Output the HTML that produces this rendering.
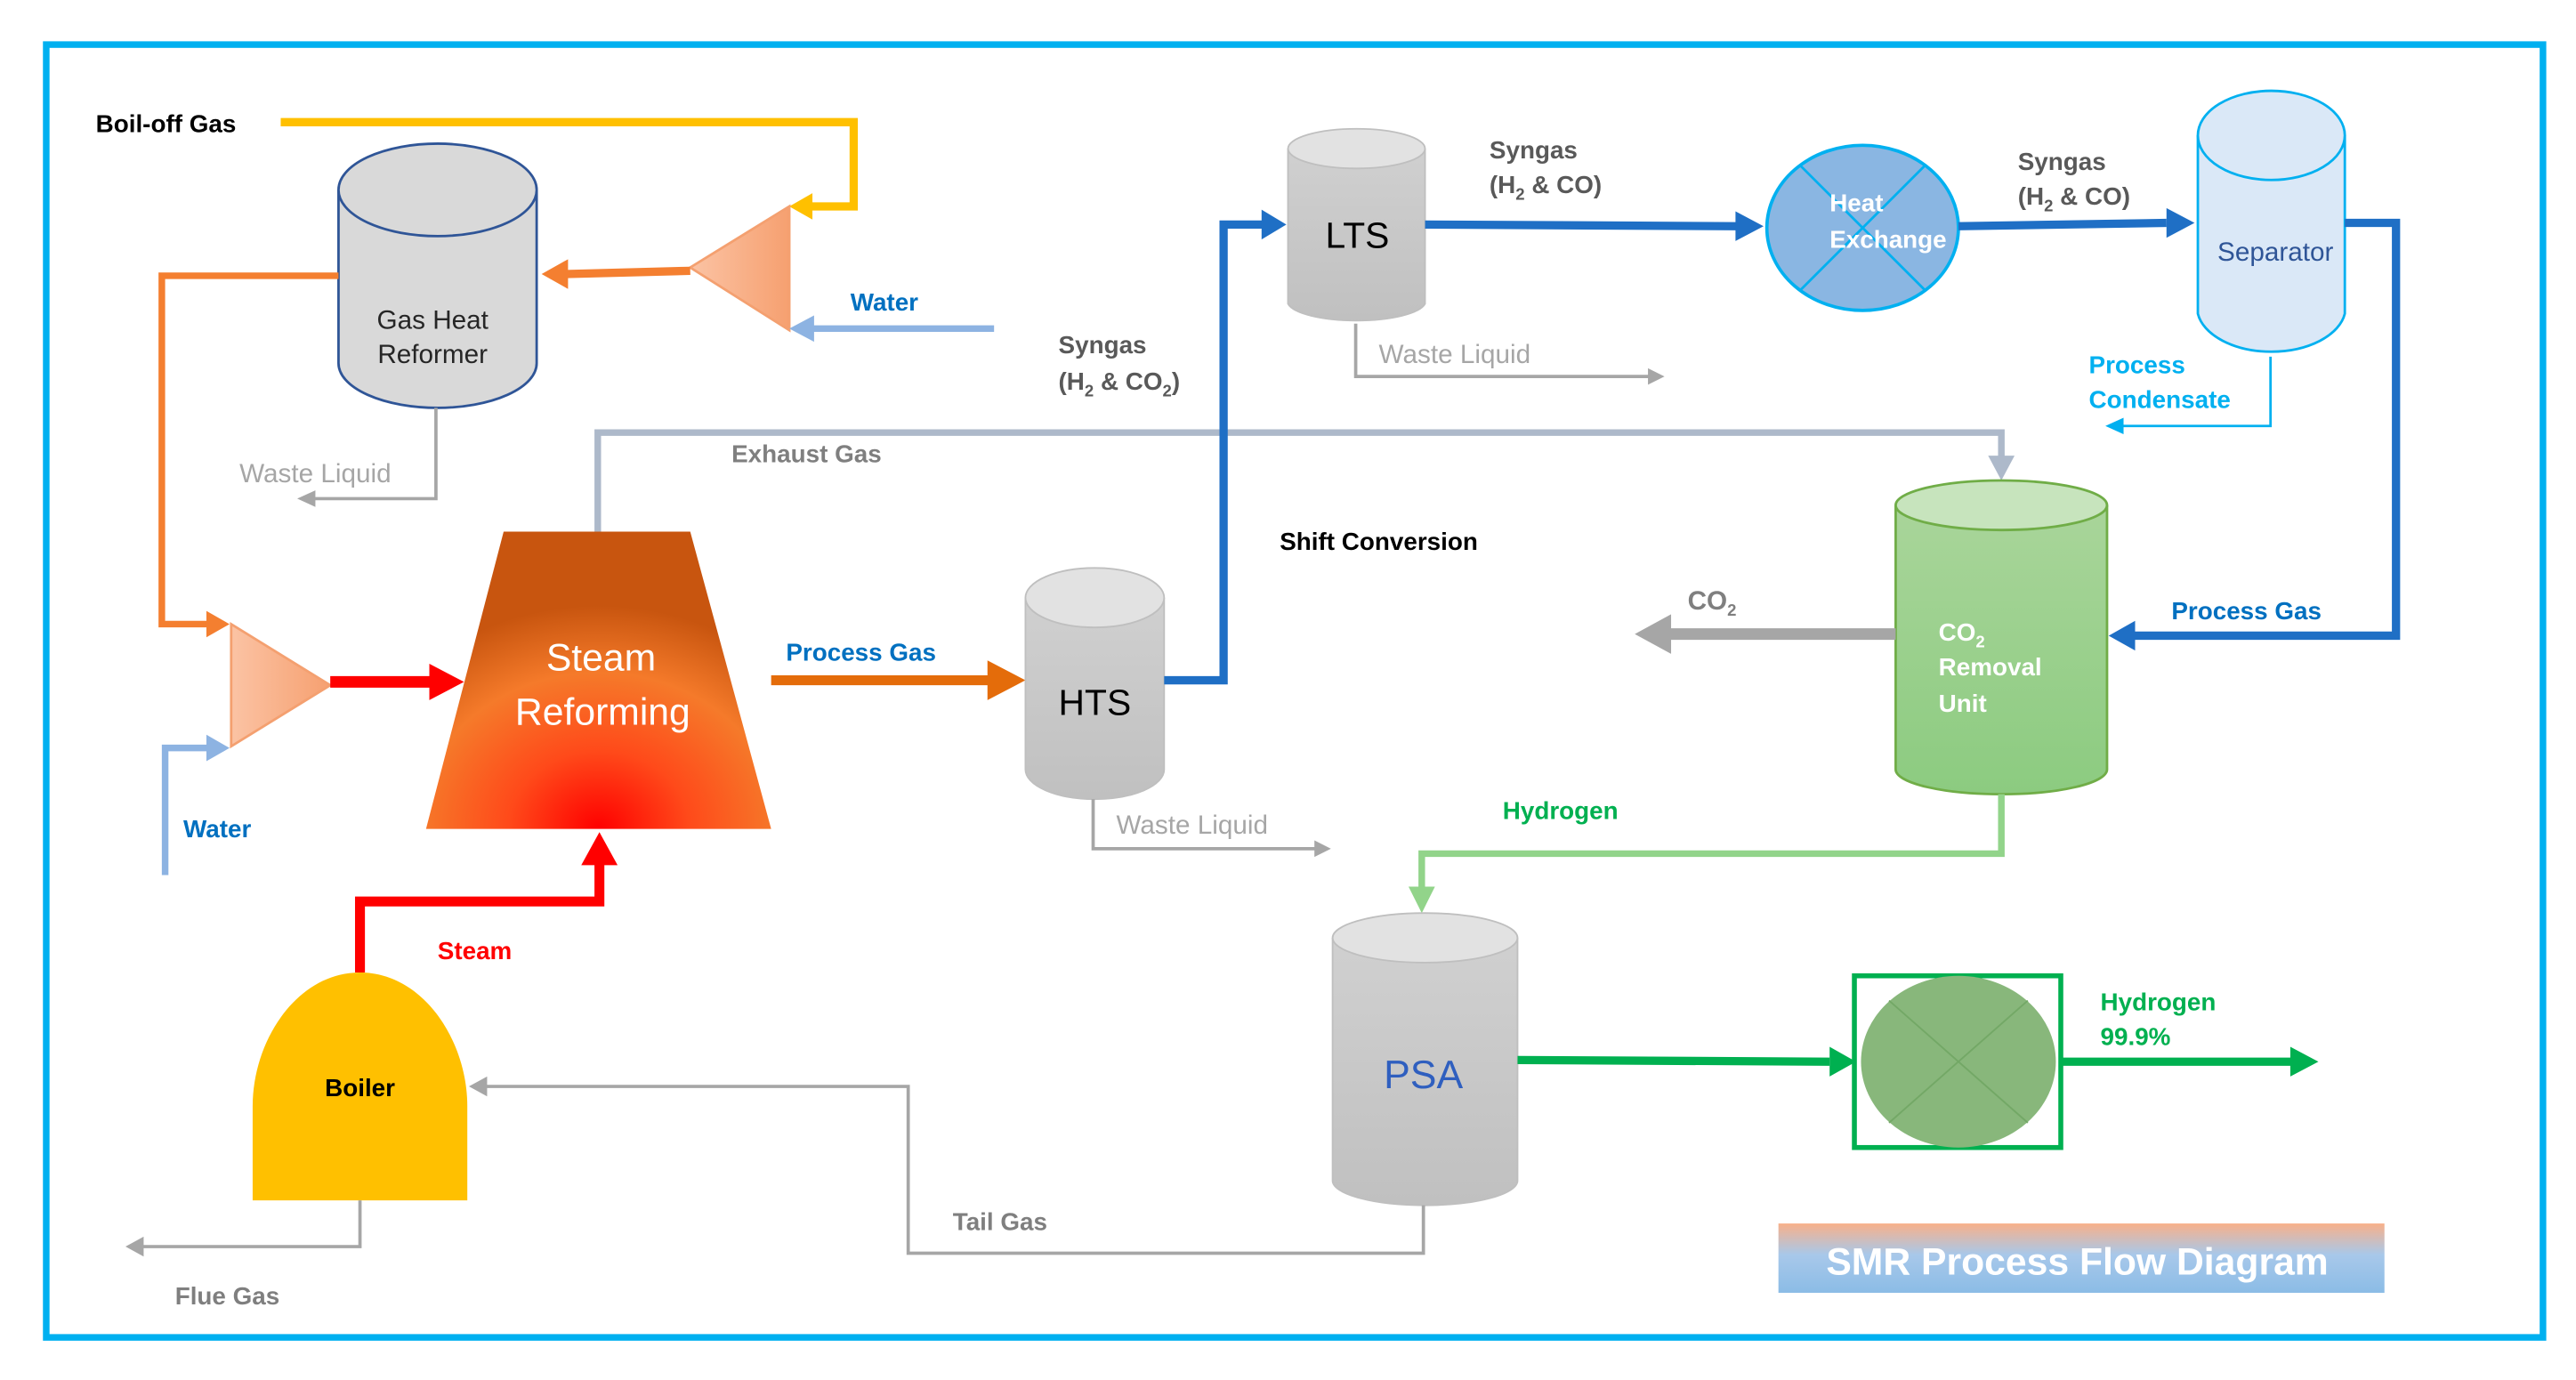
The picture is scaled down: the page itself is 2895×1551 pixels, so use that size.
<!DOCTYPE html>
<html><head><meta charset="utf-8"><style>html,body{margin:0;padding:0;background:#fff}svg{display:block}text{font-family:"Liberation Sans",sans-serif}</style></head><body>
<svg width="2895" height="1551" viewBox="0 0 1560 835.8" preserveAspectRatio="none" xmlns="http://www.w3.org/2000/svg">
<defs>
<linearGradient id="tri" x1="0" x2="1"><stop offset="0" stop-color="#fbc3a4"/><stop offset="1" stop-color="#f6a070"/></linearGradient>
<radialGradient id="sr" cx="0.5" cy="1" r="0.75"><stop offset="0" stop-color="#ff0000"/><stop offset="0.35" stop-color="#ff4a1a"/><stop offset="0.7" stop-color="#f57a2a"/><stop offset="1" stop-color="#c8550f"/></radialGradient>
<linearGradient id="grey" x1="0" x2="0" y1="0" y2="1"><stop offset="0" stop-color="#d0d0d0"/><stop offset="1" stop-color="#c0c0c0"/></linearGradient>
<linearGradient id="green" x1="0" x2="0" y1="0" y2="1"><stop offset="0" stop-color="#a9d59a"/><stop offset="1" stop-color="#8ccb80"/></linearGradient>
<linearGradient id="title" x1="0" x2="0" y1="0" y2="1"><stop offset="0" stop-color="#f8b08a"/><stop offset="0.45" stop-color="#a8c8ea"/><stop offset="1" stop-color="#8bbce6"/></linearGradient>
<marker id="aY" markerWidth="4" markerHeight="4" refX="2" refY="2" orient="auto" markerUnits="strokeWidth"><path d="M0,0L4,2L0,4z" fill="#ffc000"/></marker>
</defs>
<rect x="28" y="27" width="1512" height="783" fill="none" stroke="#00b0f0" stroke-width="4"/>

<!-- Boil-off gas -->
<text x="58" y="80" font-size="15" font-weight="bold" fill="#000">Boil-off Gas</text>
<polyline points="170,74 517,74 517,125 490,125" fill="none" stroke="#ffc000" stroke-width="5"/>
<path d="M478,125 L492,117 L492,133z" fill="#ffc000"/>
<!-- triangle 1 -->
<polygon points="478,125 478,200 418,162" fill="url(#tri)" stroke="#f4a070" stroke-width="1.5"/>
<line x1="418" y1="164" x2="343" y2="166" stroke="#f47f30" stroke-width="5"/>
<path d="M328,166 L344,157 L344,175z" fill="#f47f30"/>
<text x="515" y="188" font-size="15" font-weight="bold" fill="#0070c0">Water</text>
<line x1="602" y1="199" x2="492" y2="199" stroke="#8db3e2" stroke-width="4"/>
<path d="M478,199 L493,191 L493,207z" fill="#8db3e2"/>

<!-- Gas heat reformer -->
<path d="M205,115 L205,220 A60,27 0 0 0 325,220 L325,115" fill="#d9d9d9" stroke="#2f5597" stroke-width="1.5"/>
<ellipse cx="265" cy="115" rx="60" ry="28" fill="#d9d9d9" stroke="#2f5597" stroke-width="1.5"/>
<text x="262" y="199" font-size="16" fill="#262626" text-anchor="middle">Gas Heat</text>
<text x="262" y="220" font-size="16" fill="#262626" text-anchor="middle">Reformer</text>
<polyline points="205,167 98,167 98,378 126,378" fill="none" stroke="#f47f30" stroke-width="4"/>
<path d="M139,378 L125,370 L125,386z" fill="#f47f30"/>
<polyline points="264,247 264,302 190,302" fill="none" stroke="#a6a6a6" stroke-width="2"/>
<path d="M180,302 L191,297 L191,307z" fill="#a6a6a6"/>
<text x="145" y="292" font-size="16" fill="#a6a6a6">Waste Liquid</text>

<!-- triangle 2 -->
<polygon points="140,378 140,452 200,415" fill="url(#tri)" stroke="#f4a070" stroke-width="1.5"/>
<polyline points="100,530 100,453 126,453" fill="none" stroke="#8db3e2" stroke-width="4"/>
<path d="M139,453 L125,445 L125,461z" fill="#8db3e2"/>
<text x="111" y="507" font-size="15" font-weight="bold" fill="#0070c0">Water</text>
<line x1="200" y1="413" x2="262" y2="413" stroke="#ff0000" stroke-width="7"/>
<path d="M281,413 L260,402 L260,424z" fill="#ff0000"/>

<!-- steam reforming -->
<polygon points="305,322 418,322 467,502 258,502" fill="url(#sr)"/>
<text x="364" y="406" font-size="23" fill="#fff" text-anchor="middle">Steam</text>
<text x="365" y="439" font-size="23" fill="#fff" text-anchor="middle">Reforming</text>

<!-- exhaust -->
<polyline points="362,322 362,262 1212,262 1212,278" fill="none" stroke="#adb9ca" stroke-width="4"/>
<path d="M1212,291 L1204,276 L1220,276z" fill="#adb9ca"/>
<text x="443" y="280" font-size="15" font-weight="bold" fill="#7f7f7f">Exhaust Gas</text>

<!-- process gas -->
<line x1="467" y1="412" x2="600" y2="412" stroke="#e46c0a" stroke-width="6"/>
<path d="M621,412 L598,400 L598,424z" fill="#e46c0a"/>
<text x="476" y="400" font-size="15" font-weight="bold" fill="#0070c0">Process Gas</text>

<!-- HTS -->
<path d="M621,362 L621,466 A42,18 0 0 0 705,466 L705,362" fill="url(#grey)" stroke="#bfbfbf" stroke-width="1"/>
<ellipse cx="663" cy="362" rx="42" ry="18" fill="#e2e2e2" stroke="#bfbfbf"/>
<text x="663" y="433" font-size="22" fill="#000" text-anchor="middle">HTS</text>
<polyline points="705,412 741,412 741,136 766,136" fill="none" stroke="#1f6fc5" stroke-width="5"/>
<path d="M779,136 L764,127 L764,145z" fill="#1f6fc5"/>
<polyline points="662,484 662,514 797,514" fill="none" stroke="#a6a6a6" stroke-width="2"/>
<path d="M806,514 L796,509 L796,519z" fill="#a6a6a6"/>
<text x="676" y="505" font-size="16" fill="#a6a6a6">Waste Liquid</text>
<text x="641" y="214" font-size="15" font-weight="bold" fill="#595959">Syngas</text>
<text x="641" y="236" font-size="15" font-weight="bold" fill="#595959">(H<tspan font-size="10" dy="4">2</tspan><tspan dy="-4"> &amp; CO</tspan><tspan font-size="10" dy="4">2</tspan><tspan dy="-4">)</tspan></text>

<!-- LTS -->
<path d="M780,90 L780,184 A42,12 0 0 0 863,184 L863,90" fill="url(#grey)" stroke="#bfbfbf"/>
<ellipse cx="821.5" cy="90" rx="41.5" ry="12" fill="#e2e2e2" stroke="#bfbfbf"/>
<text x="822" y="150" font-size="22" fill="#000" text-anchor="middle">LTS</text>
<polyline points="821,196 821,228 999,228" fill="none" stroke="#a6a6a6" stroke-width="2"/>
<path d="M1008,228 L998,223 L998,233z" fill="#a6a6a6"/>
<text x="835" y="220" font-size="16" fill="#a6a6a6">Waste Liquid</text>
<line x1="863" y1="136" x2="1052" y2="137" stroke="#1f6fc5" stroke-width="5"/>
<path d="M1068,137 L1051,128 L1051,146z" fill="#1f6fc5"/>
<text x="902" y="96" font-size="15" font-weight="bold" fill="#595959">Syngas</text>
<text x="902" y="117" font-size="15" font-weight="bold" fill="#595959">(H<tspan font-size="10" dy="4">2</tspan><tspan dy="-4"> &amp; CO)</tspan></text>

<!-- Heat exchanger -->
<ellipse cx="1128" cy="138" rx="58" ry="50" fill="#8ab6e2" stroke="#00b0f0" stroke-width="2"/>
<line x1="1090" y1="100" x2="1166" y2="176" stroke="#00b0f0" stroke-width="1.5"/>
<line x1="1166" y1="100" x2="1090" y2="176" stroke="#00b0f0" stroke-width="1.5"/>
<text x="1108" y="128" font-size="15" font-weight="bold" fill="#fff">Heat</text>
<text x="1108" y="150" font-size="15" font-weight="bold" fill="#fff">Exchange</text>
<line x1="1186" y1="137" x2="1312" y2="135" stroke="#1f6fc5" stroke-width="5"/>
<path d="M1329,135 L1312,126 L1312,144z" fill="#1f6fc5"/>
<text x="1222" y="103" font-size="15" font-weight="bold" fill="#595959">Syngas</text>
<text x="1222" y="124" font-size="15" font-weight="bold" fill="#595959">(H<tspan font-size="10" dy="4">2</tspan><tspan dy="-4"> &amp; CO)</tspan></text>

<!-- Separator -->
<path d="M1331,82 L1331,190 A45,27 0 0 0 1420,190 L1420,82" fill="#dae8f7" stroke="#00b0f0" stroke-width="1.5"/>
<ellipse cx="1375.5" cy="82" rx="44.5" ry="27" fill="#dae8f7" stroke="#00b0f0" stroke-width="1.5"/>
<text x="1378" y="158" font-size="16" fill="#2f5597" text-anchor="middle">Separator</text>
<text x="1265" y="226" font-size="15" font-weight="bold" fill="#00b0f0">Process</text>
<text x="1265" y="247" font-size="15" font-weight="bold" fill="#00b0f0">Condensate</text>
<polyline points="1375,216 1375,258 1284,258" fill="none" stroke="#00b0f0" stroke-width="1.5"/>
<path d="M1275,258 L1286,253 L1286,263z" fill="#00b0f0"/>
<polyline points="1420,135 1451,135 1451,385 1292,385" fill="none" stroke="#1f6fc5" stroke-width="5"/>
<path d="M1277,385 L1293,376 L1293,394z" fill="#1f6fc5"/>
<text x="1315" y="375" font-size="15" font-weight="bold" fill="#0070c0">Process Gas</text>

<!-- CO2 removal -->
<path d="M1148,306 L1148,466 A64,15 0 0 0 1276,466 L1276,306" fill="url(#green)" stroke="#70ad47" stroke-width="1.5"/>
<ellipse cx="1212" cy="306" rx="64" ry="15" fill="#c7e4bd" stroke="#70ad47" stroke-width="1.5"/>
<text x="1174" y="388" font-size="15" font-weight="bold" fill="#fff">CO<tspan font-size="10" dy="4">2</tspan></text>
<text x="1174" y="409" font-size="15" font-weight="bold" fill="#fff">Removal</text>
<text x="1174" y="431" font-size="15" font-weight="bold" fill="#fff">Unit</text>
<line x1="1148" y1="384" x2="1008" y2="384" stroke="#a6a6a6" stroke-width="7"/>
<path d="M990,384 L1012,372 L1012,396z" fill="#a6a6a6"/>
<text x="1022" y="369" font-size="16" font-weight="bold" fill="#7f7f7f">CO<tspan font-size="10" dy="4">2</tspan></text>
<text x="775" y="333" font-size="15" font-weight="bold" fill="#000">Shift Conversion</text>

<!-- hydrogen to PSA -->
<polyline points="1212,481 1212,517 861,517 861,538" fill="none" stroke="#92d48a" stroke-width="4"/>
<path d="M861,553 L853,537 L869,537z" fill="#92d48a"/>
<text x="910" y="496" font-size="15" font-weight="bold" fill="#00b050">Hydrogen</text>

<!-- PSA -->
<path d="M807,568 L807,715 A56,15 0 0 0 919,715 L919,568" fill="url(#grey)" stroke="#bfbfbf"/>
<ellipse cx="863" cy="568" rx="56" ry="15" fill="#e2e2e2" stroke="#bfbfbf"/>
<text x="862" y="659" font-size="24" fill="#2f5fbf" text-anchor="middle">PSA</text>
<line x1="919" y1="642" x2="1108" y2="643" stroke="#00b050" stroke-width="5"/>
<path d="M1124,643 L1108,634 L1108,652z" fill="#00b050"/>
<rect x="1123" y="591" width="125" height="104" fill="none" stroke="#00b050" stroke-width="3"/>
<ellipse cx="1186" cy="643" rx="59" ry="52" fill="#88b77b"/>
<line x1="1144" y1="606" x2="1228" y2="680" stroke="#73a866" stroke-width="1"/>
<line x1="1228" y1="606" x2="1144" y2="680" stroke="#73a866" stroke-width="1"/>
<line x1="1248" y1="643" x2="1388" y2="643" stroke="#00b050" stroke-width="5"/>
<path d="M1404,643 L1387,634 L1387,652z" fill="#00b050"/>
<text x="1272" y="612" font-size="15" font-weight="bold" fill="#00b050">Hydrogen</text>
<text x="1272" y="633" font-size="15" font-weight="bold" fill="#00b050">99.9%</text>

<!-- Tail gas -->
<polyline points="862,730 862,759 550,759 550,658 294,658" fill="none" stroke="#a6a6a6" stroke-width="2"/>
<path d="M284,658 L295,652 L295,664z" fill="#a6a6a6"/>
<text x="577" y="745" font-size="15" font-weight="bold" fill="#7f7f7f">Tail Gas</text>

<!-- Boiler -->
<path d="M153,727 L153,670 C153,630 180,589 218,589 C256,589 283,630 283,670 L283,727z" fill="#ffc000"/>
<text x="218" y="664" font-size="15" font-weight="bold" fill="#000" text-anchor="middle">Boiler</text>
<polyline points="218,589 218,546 363,546 363,522" fill="none" stroke="#ff0000" stroke-width="6"/>
<path d="M363,504 L352,524 L374,524z" fill="#ff0000"/>
<text x="265" y="581" font-size="15" font-weight="bold" fill="#ff0000">Steam</text>
<polyline points="218,727 218,755 86,755" fill="none" stroke="#a6a6a6" stroke-width="2"/>
<path d="M76,755 L87,749 L87,761z" fill="#a6a6a6"/>
<text x="106" y="790" font-size="15" font-weight="bold" fill="#7f7f7f">Flue Gas</text>

<!-- Title -->
<rect x="1077" y="741" width="367" height="42" fill="url(#title)"/>
<text x="1258" y="772" font-size="23" font-weight="bold" fill="#fff" text-anchor="middle">SMR Process Flow Diagram</text>
</svg>
</body></html>
